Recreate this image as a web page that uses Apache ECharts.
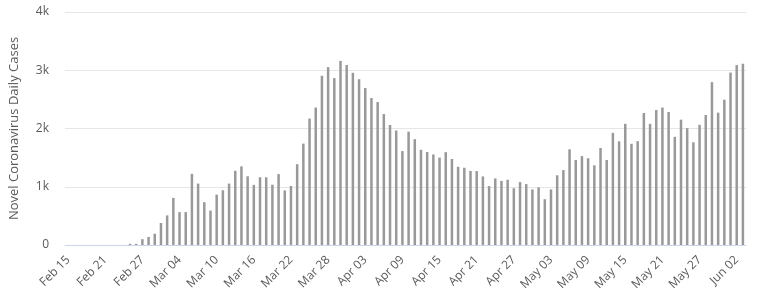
<!DOCTYPE html>
<html>
<head>
<meta charset="utf-8">
<script src="https://cdn.jsdelivr.net/npm/echarts@6/dist/echarts.min.js"></script>
<style>
html,body{margin:0;padding:0;background:#fff;}
#chart{width:757px;height:296px;}
</style>
</head>
<body>
<div id="chart"></div>
<script>
// Days from Feb 15 to Jun 03 (2020)
const monthNames = ["Feb", "Mar", "Apr", "May", "Jun"];
const monthStartDay = [15, 1, 1, 1, 1];
const monthEndDay = [29, 31, 30, 31, 3];
const categories = [];
for (let m = 0; m < monthNames.length; m++) {
  for (let d = monthStartDay[m]; d <= monthEndDay[m]; d++) {
    categories.push(monthNames[m] + " " + (d < 10 ? "0" + d : d));
  }
}

const dailyCases = [
  0, 0, 0, 0, 0, 0, 0, 0, 0, 0,
  20, 20, 100, 137, 194, 378, 508, 808, 565, 565,
  1222, 1054, 735, 591, 865, 940, 1054, 1274, 1350, 1180,
  1032, 1163, 1163, 1035, 1217, 937, 1014, 1388, 1740, 2170,
  2360, 2905, 3053, 2865, 3160, 3090, 2956, 2846, 2694, 2523,
  2454, 2248, 2060, 1965, 1612, 1946, 1817, 1634, 1597, 1554,
  1500, 1594, 1477, 1343, 1326, 1272, 1269, 1177, 1011, 1143,
  1100, 1120, 974, 1080, 1046, 954, 989, 786, 954, 1197,
  1286, 1643, 1460, 1526, 1489, 1368, 1665, 1460, 1925, 1780,
  2080, 1737, 1783, 2266, 2080, 2317, 2360, 2283, 1857, 2152,
  2006, 1763, 2063, 2232, 2795, 2272, 2495, 2960, 3089, 3112
];

const yTicks = [0, 1000, 2000, 3000, 4000];
const yTickLabels = ["0", "1k", "2k", "3k", "4k"];
const yAxisTitle = "Novel Coronavirus Daily Cases";

const chart = echarts.init(document.getElementById('chart'), null, {renderer: 'canvas'});
const font = '"Open Sans", "DejaVu Sans", sans-serif';
chart.setOption({
  animation: false,
  backgroundColor: '#ffffff',
  grid: {left: 63, right: 11, top: 12, bottom: 51},
  xAxis: {
    type: 'category',
    data: categories,
    boundaryGap: true,
    axisLine: {lineStyle: {color: '#ccd6eb', width: 1}},
    axisTick: {show: false},
    axisLabel: {
      interval: 5,
      rotate: 45,
      margin: 13,
      color: '#5a5a5a',
      fontSize: 12,
      fontFamily: font
    },
    splitLine: {show: false}
  },
  yAxis: {
    type: 'value',
    min: yTicks[0],
    max: yTicks[yTicks.length - 1],
    interval: 1000,
    name: yAxisTitle,
    nameLocation: 'middle',
    nameRotate: 90,
    nameGap: 44,
    nameTextStyle: {color: '#5a5a5a', fontSize: 13, fontFamily: font},
    axisLine: {show: false},
    axisTick: {show: false},
    axisLabel: {
      margin: 16,
      color: '#5a5a5a',
      fontSize: 12,
      fontFamily: font,
      formatter: function (v) {
        const i = yTicks.indexOf(v);
        return i >= 0 ? yTickLabels[i] : '';
      }
    },
    splitLine: {lineStyle: {color: '#e6e6e6', width: 1}}
  },
  series: [{
    type: 'bar',
    data: dailyCases,
    barWidth: 2.5,
    itemStyle: {color: '#999999'}
  }]
});
</script>
</body>
</html>
